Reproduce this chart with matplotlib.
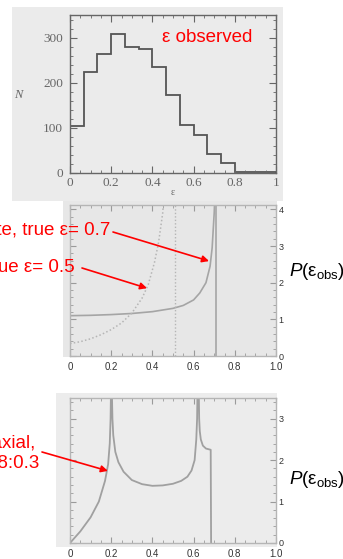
import matplotlib
matplotlib.use("Agg")
import matplotlib.pyplot as plt
import numpy as np
from matplotlib.patches import Rectangle
from matplotlib.ticker import MultipleLocator

W, H = 343, 559

plt.rcParams.update(
    {
        "font.family": ["Liberation Sans", "DejaVu Sans"],
        "mathtext.fontset": "custom",
        "mathtext.rm": "Liberation Sans",
        "mathtext.it": "Liberation Sans:italic",
        "mathtext.bf": "Liberation Sans:bold",
    }
)

# top: histogram of observed ellipticities
hist_counts = [104, 224, 264, 308, 279, 274, 234, 172, 106, 84, 42, 22, 2, 3, 3]
hist_xticks = [0, 0.2, 0.4, 0.6, 0.8, 1.0]
hist_xlabels = ["0", "0.2", "0.4", "0.6", "0.8", "1"]
hist_yticks = [0, 100, 200, 300]

# middle: oblate (solid) and prolate (dotted) spheroids
obl_eps = [0.0, 0.1, 0.2, 0.3, 0.4, 0.5, 0.55, 0.6, 0.63, 0.66, 0.68, 0.69, 0.70, 0.705]
obl_p = [1.10, 1.11, 1.13, 1.16, 1.21, 1.30, 1.38, 1.53, 1.72, 2.00, 2.45, 2.95, 3.90, 4.60]
obl_true = 0.711
pro_eps = [0.0, 0.05, 0.1, 0.15, 0.2, 0.25, 0.3, 0.35, 0.38, 0.41, 0.43, 0.45, 0.47]
pro_p = [0.34, 0.39, 0.47, 0.58, 0.72, 0.90, 1.17, 1.58, 1.95, 2.55, 3.10, 3.90, 5.50]
pro_true = 0.51

# bottom: triaxial 1:0.8:0.3
tri_eps = [0.0, 0.05, 0.1, 0.14, 0.17, 0.185, 0.193, 0.197, 0.199, 0.203, 0.206, 0.21,
           0.22, 0.235, 0.26, 0.3, 0.35, 0.4, 0.45, 0.5, 0.54, 0.57, 0.59, 0.605,
           0.613, 0.617, 0.619, 0.625, 0.627, 0.63, 0.635, 0.645, 0.66, 0.683, 0.685]
tri_p = [0.0, 0.28, 0.62, 1.0, 1.5, 1.9, 2.4, 3.0, 3.7, 3.7, 3.0, 2.6,
         2.2, 1.95, 1.72, 1.52, 1.42, 1.38, 1.39, 1.43, 1.5, 1.6, 1.75, 2.0,
         2.5, 3.0, 3.7, 3.7, 3.0, 2.7, 2.5, 2.35, 2.28, 2.25, 0.0]

pxx = [0, 0.2, 0.4, 0.6, 0.8, 1.0]
pxx_labels = ["0", "0.2", "0.4", "0.6", "0.8", "1.0"]


def fx(x):
    return x / W


def fy(y):
    return 1 - y / H


def px_axes(fig, x0, y0, x1, y1):
    return fig.add_axes([fx(x0), fy(y1), (x1 - x0) / W, (y1 - y0) / H])


def backdrop(fig, x0, y0, x1, y1, color):
    fig.add_artist(Rectangle((fx(x0), fy(y1)), (x1 - x0) / W, (y1 - y0) / H,
                             transform=fig.transFigure, facecolor=color,
                             edgecolor="none", zorder=-5))


def frame(ax, color, lw):
    ax.set_facecolor("none")
    for s in ax.spines.values():
        s.set_color(color)
        s.set_linewidth(lw)


fig = plt.figure(figsize=(W / 100, H / 100), dpi=100)

# ---- top panel
backdrop(fig, 12, 7, 283, 201, "#ebebeb")
ax1 = px_axes(fig, 70, 15, 276, 173)
frame(ax1, "#666666", 1.0)
edges = np.linspace(0, 1, len(hist_counts) + 1)
ax1.stairs(hist_counts, edges, color="#555555", lw=1.3)
ax1.set_xlim(0, 1)
ax1.set_ylim(0, 350)
ax1.set_xticks(hist_xticks)
ax1.set_xticklabels(hist_xlabels)
ax1.set_yticks(hist_yticks)
ax1.xaxis.set_minor_locator(MultipleLocator(0.05))
ax1.yaxis.set_minor_locator(MultipleLocator(20))
ax1.tick_params(which="both", direction="in", top=True, right=True, color="#666666")
ax1.tick_params(which="major", length=5)
ax1.tick_params(which="minor", length=2.5)
ax1.tick_params(axis="x", pad=3, labelsize=9.5, labelcolor="#666666")
ax1.tick_params(axis="y", pad=5, labelsize=9.5, labelcolor="#666666")
for lab in ax1.get_xticklabels() + ax1.get_yticklabels():
    lab.set_fontfamily("Liberation Serif")
fig.text(fx(18), fy(95), "N", family="Liberation Serif", style="italic",
         fontsize=9, color="#666666", ha="center", va="center")
fig.text(fx(173), fy(193), "ε", family="Liberation Serif", fontsize=7,
         color="#666666", ha="center", va="center")
fig.text(fx(162), fy(38), "ε observed", color="red", fontsize=13.5, ha="left", va="center")

# ---- middle panel
backdrop(fig, 63, 201, 277, 357, "#e7e7e7")
ax2 = px_axes(fig, 70, 205, 276, 356)
frame(ax2, "#b5b5b5", 1.0)
ax2.plot(obl_eps, obl_p, color="#a5a5a5", lw=1.2)
ax2.axvline(obl_true, color="#a5a5a5", lw=1.2)
ax2.plot(pro_eps, pro_p, color="#b5b5b5", lw=1.1, ls=(0, (1, 1.5)))
ax2.axvline(pro_true, color="#b5b5b5", lw=1.0, ls=(0, (1, 1.5)))
ax2.set_xlim(0, 1)
ax2.set_ylim(0, 4.12)

# ---- bottom panel
backdrop(fig, 56, 393, 277, 547, "#ececec")
ax3 = px_axes(fig, 70, 398, 276, 543)
frame(ax3, "#b5b5b5", 1.0)
ax3.plot(tri_eps, tri_p, color="#a0a0a0", lw=1.3)
ax3.set_xlim(0, 1)
ax3.set_ylim(0, 3.5)

for ax in (ax2, ax3):
    ax.set_xticks(pxx)
    ax.set_xticklabels(pxx_labels)
    ax.set_yticks(range(0, 5 if ax is ax2 else 4))
    ax.xaxis.set_minor_locator(MultipleLocator(0.05))
    ax.yaxis.set_minor_locator(MultipleLocator(0.2))
    ax.tick_params(which="both", direction="in", top=True, right=True, left=True,
                   labelleft=False, labelright=True, color="#9a9a9a")
    ax.tick_params(which="major", length=4)
    ax.tick_params(which="minor", length=2)
    ax.tick_params(axis="x", pad=4, labelsize=7, labelcolor="#333333")
    ax.tick_params(axis="y", pad=2, labelsize=6.5, labelcolor="#333333")

p_label = r"$P$(ε$_{\rm obs}$)"
fig.text(fx(289), fy(271), p_label, fontsize=13.5, ha="left", va="center")
fig.text(fx(289), fy(480), p_label, fontsize=13.5, ha="left", va="center")

# ---- red annotations
red = dict(color="red", fontsize=13.5, va="center")
fig.text(fx(110), fy(230), "oblate, true ε= 0.7", ha="right", **red)
fig.text(fx(75), fy(268), "prolate, true ε= 0.5", ha="right", **red)
fig.text(fx(36), fy(443), "triaxial,", ha="right", **red)
fig.text(fx(40), fy(463), "1:0.8:0.3", ha="right", **red)

arrow = dict(arrowstyle="-|>", color="red", lw=1.2, mutation_scale=10, shrinkA=0, shrinkB=0)
ax2.annotate("", xy=(0.675, 2.59), xytext=(fx(113), fy(232)),
             textcoords="figure fraction", arrowprops=arrow, annotation_clip=False)
ax2.annotate("", xy=(0.374, 1.85), xytext=(fx(82), fy(268)),
             textcoords="figure fraction", arrowprops=arrow, annotation_clip=False)
ax3.annotate("", xy=(0.184, 1.74), xytext=(fx(42), fy(452)),
             textcoords="figure fraction", arrowprops=arrow, annotation_clip=False)

fig.savefig("out.png", dpi=100)
